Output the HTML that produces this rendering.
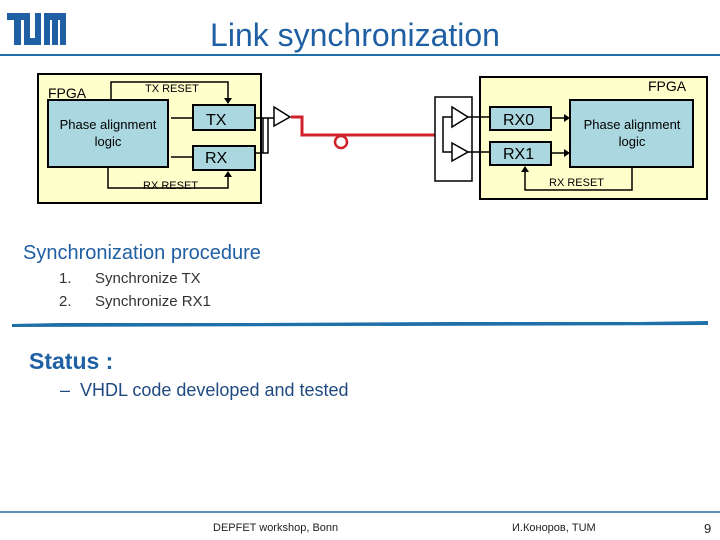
<!DOCTYPE html>
<html><head><meta charset="utf-8"><style>
body{margin:0;width:720px;height:540px;background:#fff;position:relative;overflow:hidden;font-family:"Liberation Sans",sans-serif}
.t{position:absolute;white-space:nowrap}
</style></head><body>
<svg width="720" height="540" style="position:absolute;left:0;top:0" font-family="Liberation Sans, sans-serif">
<g fill="#1f5fa3">
<rect x="7" y="13" width="20" height="7"/><rect x="14" y="13" width="7" height="32"/>
<rect x="24" y="13" width="6" height="32"/><rect x="24" y="38" width="17" height="7"/><rect x="35" y="13" width="6" height="32"/>
<rect x="44" y="13" width="22" height="7"/><rect x="44" y="13" width="6" height="32"/><rect x="52" y="13" width="6" height="32"/><rect x="60" y="13" width="6" height="32"/>
</g>
<rect x="0" y="54" width="720" height="2" fill="#1f6fa8"/>
<rect x="38" y="74" width="223" height="129" fill="#ffffcc" stroke="#000" stroke-width="2"/>
<rect x="48" y="100" width="120" height="67" fill="#aad7e0" stroke="#000" stroke-width="2"/>
<rect x="193" y="105" width="62" height="25" fill="#aad7e0" stroke="#000" stroke-width="2"/>
<rect x="193" y="146" width="62" height="24" fill="#aad7e0" stroke="#000" stroke-width="2"/>
<g stroke="#000" stroke-width="1.5" fill="none">
<polyline points="111,100 111,82 228,82 228,100"/>
<polyline points="108,167 108,188 228,188 228,175"/>
<line x1="171" y1="118" x2="193" y2="118"/><line x1="171" y1="157" x2="193" y2="157"/>
<polyline points="255,118 274,118"/><polyline points="255,153 268,153 268,118"/><line x1="263" y1="118" x2="263" y2="153"/>
<polygon points="274,107 274,126 290,117" fill="#fff"/>
</g>
<polygon points="224,98 232,98 228,104" fill="#000"/>
<polygon points="224,177 232,177 228,171" fill="#000"/>
<polyline points="291,117 302,117 302,135 435,135" fill="none" stroke="#d0202a" stroke-width="3"/>
<circle cx="341" cy="142" r="6" fill="#fff" stroke="#d0202a" stroke-width="2.5"/>
<rect x="435" y="97" width="37" height="84" fill="#fff" stroke="#000" stroke-width="1.5"/>
<g stroke="#000" stroke-width="1.5" fill="none">
<polyline points="452,117 443,117 443,152 452,152"/>
<polygon points="452,107 452,127 468,117" fill="#fff"/>
<polygon points="452,143 452,161 468,152" fill="#fff"/>
</g>
<rect x="480" y="77" width="227" height="122" fill="#ffffcc" stroke="#000" stroke-width="2"/>
<g stroke="#000" stroke-width="1.5" fill="none">
<line x1="468" y1="117" x2="490" y2="117"/><line x1="468" y1="152" x2="490" y2="152"/>
<line x1="551" y1="118" x2="566" y2="118"/><line x1="551" y1="153" x2="566" y2="153"/>
<polyline points="632,167 632,190 525,190 525,172"/>
</g>
<rect x="490" y="107" width="61" height="23" fill="#aad7e0" stroke="#000" stroke-width="2"/>
<rect x="490" y="142" width="61" height="23" fill="#aad7e0" stroke="#000" stroke-width="2"/>
<rect x="570" y="100" width="123" height="67" fill="#aad7e0" stroke="#000" stroke-width="2"/>
<polygon points="564,114 570,118 564,122" fill="#000"/><polygon points="564,149 570,153 564,157" fill="#000"/>
<polygon points="521,172 529,172 525,166" fill="#000"/>
<g fill="#000">
<text x="48" y="98" font-size="14">FPGA</text>
<text x="145" y="92" font-size="11">TX RESET</text>
<text x="108" y="129" font-size="13" text-anchor="middle">Phase alignment</text>
<text x="108" y="146" font-size="13" text-anchor="middle">logic</text>
<text x="206" y="125" font-size="16">TX</text>
<text x="205" y="163" font-size="16">RX</text>
<text x="143" y="189" font-size="11">RX RESET</text>
<text x="648" y="91" font-size="14">FPGA</text>
<text x="503" y="125" font-size="16">RX0</text>
<text x="503" y="159" font-size="16">RX1</text>
<text x="632" y="129" font-size="13" text-anchor="middle">Phase alignment</text>
<text x="632" y="146" font-size="13" text-anchor="middle">logic</text>
<text x="549" y="186" font-size="11">RX RESET</text>
</g>
<polygon points="12,324 60,323 250,323 450,322 640,322 708,321 708,325 12,327" fill="#1f6fa8"/>
<line x1="0" y1="512" x2="720" y2="512" stroke="#1f6fa8" stroke-width="1.5"/>
</svg>
<div class="t" style="left:0;width:710px;text-align:center;top:17px;font-size:32px;color:#1f5fa3">Link synchronization</div>
<div class="t" style="left:23px;top:242px;font-size:20px;color:#1f5fa3">Synchronization procedure</div>
<div class="t" style="left:59px;top:270px;font-size:15px;color:#333">1.</div>
<div class="t" style="left:95px;top:270px;font-size:15px;color:#333">Synchronize TX</div>
<div class="t" style="left:59px;top:293px;font-size:15px;color:#333">2.</div>
<div class="t" style="left:95px;top:293px;font-size:15px;color:#333">Synchronize RX1</div>
<div class="t" style="left:29px;top:348px;font-size:23px;font-weight:bold;color:#1f5fa3">Status :</div>
<div class="t" style="left:60px;top:380px;font-size:18px;color:#1f4a80">– &nbsp;VHDL code developed and tested</div>
<div class="t" style="left:213px;top:522px;font-size:11px;color:#222">DEPFET workshop, Bonn</div>
<div class="t" style="left:512px;top:522px;font-size:11px;color:#222">И.Коноров, TUM</div>
<div class="t" style="left:704px;top:521px;font-size:13px;color:#222">9</div>
</body></html>
